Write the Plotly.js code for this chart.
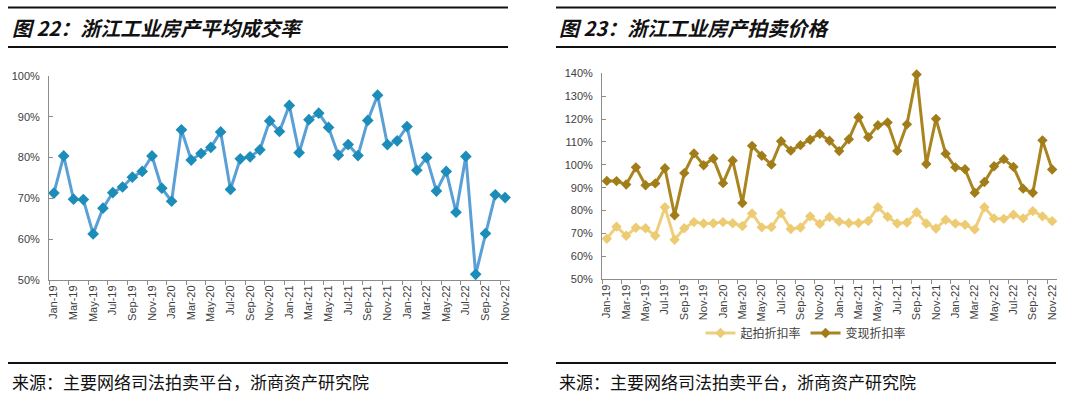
<!DOCTYPE html>
<html>
<head>
<meta charset="utf-8">
<script src="https://cdn.plot.ly/plotly-3.0.1.min.js"></script>
<style>html,body{margin:0;padding:0;background:#fff;}#chart{width:1080px;height:397px;}</style>
</head>
<body>
<div id="chart"></div>
<script>
// ---- data ----
const months = [
  "Jan-19","Feb-19","Mar-19","Apr-19","May-19","Jun-19","Jul-19","Aug-19","Sep-19","Oct-19","Nov-19","Dec-19",
  "Jan-20","Feb-20","Mar-20","Apr-20","May-20","Jun-20","Jul-20","Aug-20","Sep-20","Oct-20","Nov-20","Dec-20",
  "Jan-21","Feb-21","Mar-21","Apr-21","May-21","Jun-21","Jul-21","Aug-21","Sep-21","Oct-21","Nov-21","Dec-21",
  "Jan-22","Feb-22","Mar-22","Apr-22","May-22","Jun-22","Jul-22","Aug-22","Sep-22","Oct-22","Nov-22"
];
// 平均成交率 (%)
const dealRate = [
  71.3,80.4,69.8,69.7,61.3,67.6,71.4,72.8,75.2,76.6,80.4,72.5,
  69.3,86.8,79.4,81.0,82.5,86.3,72.2,79.7,80.2,81.9,89.0,86.4,
  92.8,81.2,89.3,90.9,87.4,80.6,83.2,80.5,89.1,95.3,83.2,84.1,
  87.6,76.9,80.0,71.8,76.6,66.6,80.3,51.4,61.4,70.9,70.2
];
// 起拍折扣率 (%)
const startDiscount = [
  67.7,73.0,69.0,72.5,72.3,69.0,81.5,67.3,72.3,75.0,74.4,74.5,
  75.0,74.5,73.3,78.8,72.7,72.8,78.9,72.0,72.6,77.5,74.2,77.2,
  75.2,74.6,74.6,75.5,81.5,77.3,74.4,74.8,79.3,74.4,72.2,76.0,
  74.4,73.8,71.8,81.5,76.6,76.4,78.2,76.6,79.8,77.5,75.4
];
// 变现折扣率 (%)
const realizeDiscount = [
  93.0,92.9,91.4,98.9,91.1,91.9,98.5,78.0,96.4,105.0,99.8,102.8,
  92.0,101.9,83.3,108.3,104.0,100.1,110.3,106.2,108.6,111.0,113.6,110.5,
  106.0,111.2,120.8,112.1,117.3,118.5,106.1,117.7,139.5,100.4,120.1,104.9,
  98.9,98.1,87.8,92.5,99.4,102.5,99.1,89.6,87.8,110.7,98.0
];
const yTicksLeft = [50,60,70,80,90,100];
const yTicksRight = [50,60,70,80,90,100,110,120,130,140];
const pct = v => v.map(x => x + "%");

// ---- layout helpers ----
const W = 1080, H = 397;
const px = x => x / W;
const py = y => 1 - y / H;

const axisCol = "#8c8c8c";
const tickFont = {family: "Liberation Sans, Arial, sans-serif", size: 11, color: "#404040"};
const xTickFont = {family: "Liberation Sans Narrow, Arial Narrow, Liberation Sans, Arial, sans-serif", size: 11, color: "#404040"};

const xCommon = {
  type: "category", categoryarray: months, categoryorder: "array",
  range: [-0.5, months.length - 0.5],
  showline: true, linecolor: axisCol, linewidth: 1,
  showgrid: false, zeroline: false,
  ticks: "outside", ticklen: 4, tickcolor: axisCol, tickson: "boundaries",
  tickmode: "linear", tick0: 0, dtick: 2, tickangle: -90,
  tickfont: xTickFont, fixedrange: true
};
const yCommon = {
  showline: true, linecolor: axisCol, linewidth: 1,
  showgrid: false, zeroline: false,
  ticks: "inside", ticklen: 4, tickcolor: axisCol,
  tickmode: "array", tickfont: tickFont, ticklabelstandoff: 6, fixedrange: true
};

const traces = [
  {
    x: months, y: dealRate, xaxis: "x", yaxis: "y", type: "scatter", mode: "lines+markers",
    name: "平均成交率", showlegend: false, cliponaxis: false,
    line: {color: "#5aa0d6", width: 3},
    marker: {symbol: "diamond", size: 9, color: "#1c8db8"}
  },
  {
    x: months, y: startDiscount, xaxis: "x2", yaxis: "y2", type: "scatter", mode: "lines+markers",
    name: "起拍折扣率", cliponaxis: false,
    line: {color: "#efcf7c", width: 3},
    marker: {symbol: "diamond", size: 8, color: "#eccb72"}
  },
  {
    x: months, y: realizeDiscount, xaxis: "x2", yaxis: "y2", type: "scatter", mode: "lines+markers",
    name: "变现折扣率", cliponaxis: false,
    line: {color: "#a8851f", width: 3},
    marker: {symbol: "diamond", size: 8, color: "#a07d18"}
  }
];

const titleFont = {family: "Noto Sans CJK SC, sans-serif", size: 20, color: "#111", weight: "bold", style: "italic"};
const srcFont = {family: "Noto Sans CJK SC, sans-serif", size: 17, color: "#111"};
const rule = (x0, x1, y, w) => ({type: "line", xref: "paper", yref: "paper", x0: px(x0), x1: px(x1), y0: py(y), y1: py(y), line: {color: "#111", width: w}});

const layout = {
  width: W, height: H,
  margin: {l: 0, r: 0, t: 0, b: 0},
  paper_bgcolor: "#fff", plot_bgcolor: "#fff",
  showlegend: true,
  legend: {
    orientation: "h", x: px(806), y: py(333), xanchor: "center", yanchor: "middle",
    font: {family: "Noto Sans CJK SC, sans-serif", size: 12, color: "#404040"},
    itemwidth: 30, tracegroupgap: 0, bgcolor: "rgba(0,0,0,0)"
  },
  xaxis: Object.assign({}, xCommon, {domain: [px(49), px(510)], anchor: "y"}),
  yaxis: Object.assign({}, yCommon, {domain: [py(280), py(76)], range: [50, 100], tickvals: yTicksLeft, ticktext: pct(yTicksLeft), anchor: "x"}),
  xaxis2: Object.assign({}, xCommon, {domain: [px(602), px(1057)], anchor: "y2"}),
  yaxis2: Object.assign({}, yCommon, {domain: [py(279.3), py(73.3)], range: [50, 140], tickvals: yTicksRight, ticktext: pct(yTicksRight), anchor: "x2"}),
  shapes: [
    rule(8, 508, 7.5, 1.8), rule(8, 508, 47, 1.8),
    rule(556, 1056, 7.5, 1.8), rule(556, 1056, 47, 1.8),
    rule(8, 508, 363, 1.8), rule(556, 1056, 363, 1.8)
  ],
  annotations: [
    {xref: "paper", yref: "paper", x: px(10), y: py(27), xanchor: "left", yanchor: "middle", showarrow: false,
     text: "图 22：浙江工业房产平均成交率", font: titleFont},
    {xref: "paper", yref: "paper", x: px(557), y: py(27), xanchor: "left", yanchor: "middle", showarrow: false,
     text: "图 23：浙江工业房产拍卖价格", font: titleFont},
    {xref: "paper", yref: "paper", x: px(10), y: py(381), xanchor: "left", yanchor: "middle", showarrow: false,
     text: "来源：主要网络司法拍卖平台，浙商资产研究院", font: srcFont},
    {xref: "paper", yref: "paper", x: px(557), y: py(381), xanchor: "left", yanchor: "middle", showarrow: false,
     text: "来源：主要网络司法拍卖平台，浙商资产研究院", font: srcFont}
  ]
};

Plotly.newPlot("chart", traces, layout, {staticPlot: true, displayModeBar: false});
</script>
</body>
</html>
